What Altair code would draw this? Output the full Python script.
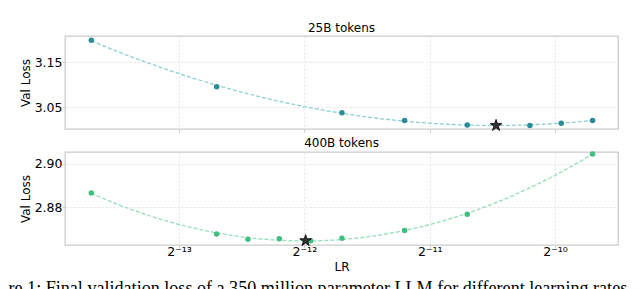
import altair as alt
import pandas as pd

# ---- data ----
lr_exp_25b = [-13.7, -12.7, -11.7, -11.2, -10.7, -10.2, -9.95, -9.7]
loss_25b = [3.199, 3.096, 3.038, 3.021, 3.011, 3.010, 3.015, 3.021]
best_25b_exp = [-10.47]
best_25b_loss = [3.0098]

lr_exp_400b = [-13.7, -12.7, -12.45, -12.2, -11.95, -11.7, -11.2, -10.7, -9.7]
loss_400b = [2.8866, 2.8676, 2.8652, 2.8654, 2.8645, 2.8656, 2.8692, 2.8767, 2.9046]
best_400b_exp = [-11.99]
best_400b_loss = [2.8645]

x_ticks = [-13, -12, -11, -10]
x_tick_labels = ["2⁻¹³", "2⁻¹²", "2⁻¹¹", "2⁻¹⁰"]
y_ticks_25b = [3.05, 3.15]
y_ticks_400b = [2.88, 2.90]
panel_titles = ["25B tokens", "400B tokens"]
caption = "re 1: Final validation loss of a 350 million parameter LLM for different learning rates"

x_domain = [-13.91, -9.497]
y_domain_25b = [3.002, 3.2085]
y_domain_400b = [2.8625, 2.9055]

STAR = ("M0,-1L0.2245,-0.309L0.951,-0.309L0.363,0.118L0.588,0.809L0,0.382"
        "L-0.588,0.809L-0.363,0.118L-0.951,-0.309L-0.2245,-0.309Z")

label_expr = " : ".join(
    f"datum.value == {v} ? '{t}'" for v, t in zip(x_ticks, x_tick_labels)
) + " : ''"

FONT = "DejaVu Sans"


def panel(exps, losses, bx, by, ydom, yticks, title, pt_color, line_color, show_x):
    df = pd.DataFrame({"lr": exps, "loss": losses})
    best = pd.DataFrame({"lr": bx, "loss": by})
    if show_x:
        xaxis = alt.Axis(values=x_ticks, labelExpr=label_expr, title="LR",
                         labelFontSize=12.5, labelPadding=-3, titlePadding=4)
    else:
        xaxis = alt.Axis(values=x_ticks, labels=False, title=None)
    x = alt.X("lr:Q", scale=alt.Scale(domain=x_domain, nice=False, zero=False), axis=xaxis)
    y = alt.Y("loss:Q", scale=alt.Scale(domain=ydom, nice=False, zero=False),
              axis=alt.Axis(values=yticks, format=".2f", title="Val Loss",
                            labelPadding=0, titlePadding=2))
    base = alt.Chart(df)
    line = base.transform_regression("lr", "loss", method="poly", order=2).mark_line(
        color=line_color, strokeDash=[4, 2], strokeWidth=1.3
    ).encode(x=x, y=y)
    pts = base.mark_circle(color=pt_color, size=30, opacity=1).encode(x=x, y=y)
    star = alt.Chart(best).mark_point(
        shape=STAR, filled=True, fill="#333333", stroke="#000000", strokeWidth=0.8,
        size=150, opacity=1
    ).encode(x=x, y=y)
    return alt.layer(line, pts, star).properties(
        width=553, height=93,
        title=alt.TitleParams(title, font=FONT, fontSize=12, fontWeight="normal",
                              color="black", frame="group", anchor="middle",
                              baseline="alphabetic", offset=-8),
    )


top = panel(lr_exp_25b, loss_25b, best_25b_exp, best_25b_loss, y_domain_25b, y_ticks_25b,
            panel_titles[0], "#2a8c97", "#8fd0d2", False)
bottom = panel(lr_exp_400b, loss_400b, best_400b_exp, best_400b_loss, y_domain_400b,
               y_ticks_400b, panel_titles[1], "#3fbf7f", "#93dfb8", True)

chart = alt.vconcat(top, bottom, spacing=2).properties(
    title=alt.TitleParams(caption, orient="bottom", anchor="start", frame="bounds",
                          font="Liberation Serif", fontSize=18.1, fontWeight="normal",
                          color="black", baseline="alphabetic", offset=21, dx=-10),
    padding={"left": 0, "top": 13, "right": 0, "bottom": 0},
    background="white",
).configure_view(
    stroke="#cccccc", strokeWidth=1.3
).configure_axis(
    labelFont=FONT, titleFont=FONT, labelFontSize=12.5, titleFontSize=12,
    titleFontWeight="normal", labelColor="black", titleColor="black",
    domain=False, tickColor="#cccccc", tickSize=3, labelPadding=2, titlePadding=3,
    gridColor="#dddddd", gridDash=[2, 2], gridWidth=0.8,
)

chart.save("out.html", embed_options={"renderer": "svg", "actions": False})
